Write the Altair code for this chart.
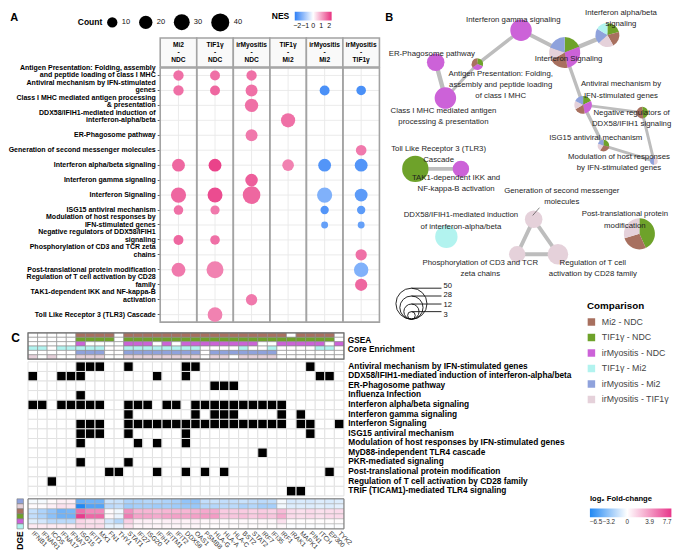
import math
import altair as alt
import pandas as pd

S = 0.97
FONT = "Liberation Sans"
OX, OY = 20.7, 61          # figure-unit origin of the top block (left edge of panel C, top of panel A plot)

# ---------------- shared ----------------
COMPS = ["Mi2 - NDC", "TIF1γ - NDC", "irMyositis - NDC", "TIF1γ - Mi2", "irMyositis - Mi2", "irMyositis - TIF1γ"]
COMP_HDR = ["Mi2\n-\nNDC", "TIF1γ\n-\nNDC", "irMyositis\n-\nNDC", "TIF1γ\n-\nMi2", "irMyositis\n-\nMi2", "irMyositis\n-\nTIF1γ"]
COMP_COLORS = ["#a8705f", "#6ea22a", "#cc62d8", "#b2f3ef", "#8fa2dc", "#e5d1da"]

# ---------------- panel A ----------------
A_PATHWAYS = [
    "Antigen Presentation: Folding, assembly|and peptide loading of class I MHC",
    "Antiviral mechanism by IFN-stimulated|genes",
    "Class I MHC mediated antigen processing|& presentation",
    "DDX58/IFIH1-mediated induction of|interferon-alpha/beta",
    "ER-Phagosome pathway",
    "Generation of second messenger molecules",
    "Interferon alpha/beta signaling",
    "Interferon gamma signaling",
    "Interferon Signaling",
    "ISG15 antiviral mechanism",
    "Modulation of host responses by|IFN-stimulated genes",
    "Negative regulators of DDX58/IFIH1|signaling",
    "Phosphorylation of CD3 and TCR zeta|chains",
    "Post-translational protein modification",
    "Regulation of T cell activation by CD28|family",
    "TAK1-dependent IKK and NF-kappa-B|activation",
    "Toll Like Receptor 3 (TLR3) Cascade",
]
A_DOT_PATH = [0, 0, 0, 1, 1, 1, 1, 1, 2, 3, 4, 5, 6, 6, 6, 6, 6, 7, 8, 8, 8, 8, 8,
              9, 9, 9, 9, 10, 10, 11, 11, 12, 13, 13, 13, 14, 15, 16]
A_DOT_COMP = [0, 1, 2, 0, 1, 2, 4, 5, 2, 3, 2, 5, 0, 1, 3, 4, 5, 2, 0, 1, 2, 4, 5,
              0, 1, 4, 5, 4, 5, 0, 1, 5, 0, 1, 5, 5, 2, 1]
A_DOT_COUNT = [10, 9, 10, 10, 9, 15, 9, 8, 20, 23, 15, 11, 18, 18, 14, 18, 18, 17, 27, 26, 38, 27, 18,
               8, 7, 5, 5, 2, 2, 9, 8, 13, 22, 35, 24, 16, 13, 25]
A_DOT_NES = [1.6, 1.6, 1.6, 1.6, 1.7, 1.6, -2.0, -2.0, 1.6, 1.6, 1.5, 1.5, 1.7, 2.1, 1.4, -1.9, -1.9, 1.8,
             1.7, 2.0, 1.7, -1.4, -1.8, 1.6, 1.5, -1.9, -1.8, -1.7, -1.7, 1.7, 1.6, 1.6, 1.5, 1.4, -1.4,
             1.7, 1.5, 1.4]

# ---------------- panel B (network layout, in figure units) ----------------
B_X = [484, 593, 451, 452, 441, 542, 618, 529, 574, 614, 666, 654, 525, 651, 567, 467, 420]
B_Y = [57, 99, 92, 235, 55, 217, 27, 22, 45, 141, 157, 107, 253, 232, 253, 165, 165]
B_SIZE = [7, 16, 24, 26, 16, 16, 30, 24, 50, 7, 3, 7, 14, 50, 22, 14, 36]
B_LABEL = [
    "Antigen Presentation: Folding,\nassembly and peptide loading\nof class I MHC",
    "Antiviral mechanism by\nIFN-stimulated genes",
    "Class I MHC mediated antigen\nprocessing & presentation",
    "DDX58/IFIH1-mediated induction\nof interferon-alpha/beta",
    "ER-Phagosome pathway",
    "Generation of second messenger\nmolecules",
    "Interferon alpha/beta\nsignaling",
    "Interferon gamma signaling",
    "Interferon Signaling",
    "ISG15 antiviral mechanism",
    "Modulation of host responses\nby IFN-stimulated genes",
    "Negative regulators of\nDDX58/IFIH1 signaling",
    "Phosphorylation of CD3 and TCR\nzeta chains",
    "Post-translational protein\nmodification",
    "Regulation of T cell\nactivation by CD28 family",
    "TAK1-dependent IKK and\nNF-kappa-B activation",
    "Toll Like Receptor 3 (TLR3)\nCascade",
]
B_LX = [508, 632, 449, 467, 437, 571, 632, 521, 578, 606, 630, 643, 487, 636, 603, 462, 444]
B_LY = [67, 78, 105, 213, 47, 188, 4, 12, 52, 133, 153, 107, 262, 212, 262, 174, 144]
B_LEADER = [548, 205, 541, 213]          # label-to-node connector for "Generation of second messenger molecules"
E_SRC = [4, 2, 0, 7, 8, 8, 1, 1, 11, 9, 16, 5, 5, 12]
E_DST = [2, 0, 7, 8, 6, 1, 11, 9, 10, 10, 15, 12, 14, 14]
E_W = [4.5, 3.0, 3.5, 4.0, 4.5, 3.5, 3.0, 3.5, 3.0, 3.0, 4.0, 4.0, 4.0, 4.0]
SLICE_ORDER = [1, 2, 0, 5, 4, 3]
B_LEG_N = [50, 28, 12, 3]
B_LEG_LABEL_Y = [285.5, 295.5, 305.5, 315.5]
B_LEG_CX = 416
B_LEG_BOTTOM = 320

# ---------------- panel C ----------------
GENES = ["IFNB1", "IFNAR1", "ICOS", "IFNA17", "IFNA7", "ISG15", "IFIT1", "MX1", "FN1", "THY1", "STAT1",
         "IFI27", "ISG20", "IFIH1", "IFITM1", "IFIT2", "DDX58", "OAS1", "PSMB8", "HLA-G", "HLA-A", "HLA-C",
         "BST2", "STAT2", "IRF7", "IFI35", "IRF1", "IRAK1", "MAPK1", "PIN1", "ITCH", "EP300", "TYK2"]
GSEA_MEMBERS = [
    [6, 7, 8, 9] + list(range(11, 28)) + [29, 30, 31, 32],
    [6, 7, 8, 9] + list(range(11, 33)),
    [6, 11, 12, 13, 15] + list(range(17, 25)) + [27, 28, 29, 30, 31, 33],
    [1, 2, 4, 5, 6, 7, 8] + list(range(11, 19)) + [23, 26, 31, 32],
    [6, 7, 8] + list(range(11, 19)) + list(range(20, 27)),
    [1, 3, 6, 7, 8] + list(range(11, 19)) + [20, 21, 23, 24, 25, 26],
]
C_PATHWAYS = [
    "Antiviral mechanism by IFN-stimulated genes",
    "DDX58/IFIH1-mediated induction of interferon-alpha/beta",
    "ER-Phagosome pathway",
    "Influenza Infection",
    "Interferon alpha/beta signaling",
    "Interferon gamma signaling",
    "Interferon Signaling",
    "ISG15 antiviral mechanism",
    "Modulation of host responses by IFN-stimulated genes",
    "MyD88-independent TLR4 cascade",
    "PKR-mediated signaling",
    "Post-translational protein modification",
    "Regulation of T cell activation by CD28 family",
    "TRIF (TICAM1)-mediated TLR4 signaling",
]
C_MEMBERS = [
    [6, 7, 8, 11, 17, 18, 30],
    [1, 4, 5, 6, 14, 17, 31, 32],
    [20, 21, 22],
    [6],
    [1, 2, 4, 5, 6, 7, 8, 11, 12, 13, 15, 16] + list(range(18, 28)),
    [11, 18, 20, 21, 22, 27, 29],
    [6, 7, 8] + list(range(11, 28)) + [29, 30, 33],
    [6, 7, 8, 11, 17, 30],
    [6, 12, 14, 17],
    [25],
    [6, 11],
    [9, 10, 14, 17, 19, 21, 32],
    [3],
    [28, 29],
]
DGE_ROWS = ["irMyositis - Mi2", "irMyositis - TIF1γ", "Mi2 - NDC", "TIF1γ - NDC", "irMyositis - NDC", "TIF1γ - Mi2"]
DGE_FC = [
    [-0.3, -0.3, 0.2, 0.6, 0.6, -4.5, -4.2, -4.2, -1.5, -1.6, -2.4, -2.4, -2.2, -2.2, -2.4, -2.6, -3.2,
     -3.2, -1.8, -1.6, -1.8, -1.8, -1.6, -1.8, -2.0, -1.9, -0.3, -1.2, -1.1, -1.2, -1.0, -1.1, -1.0],
    [0.2, 0.2, 0.6, 1.2, 1.1, -6.5, -5.0, -5.0, -2.0, -1.8, -2.8, -2.6, -2.6, -2.8, -2.6, -2.8, -3.0,
     -3.0, -2.2, -2.2, -2.0, -2.0, -2.4, -2.2, -2.6, -2.6, -0.4, -1.0, -1.0, -1.0, -0.9, -1.0, -0.8],
    [-1.7, -2.4, -3.2, -4.2, -4.0, 5.5, 4.5, 4.5, 0.2, -0.4, 4.2, 2.8, 2.8, 2.6, 2.8, 2.8, 2.8,
     3.0, 3.3, 3.3, 2.0, 2.0, 2.0, 1.8, 2.0, 1.8, 2.6, 1.4, 1.2, 1.4, 1.2, 1.3, 1.4],
    [-1.8, -2.4, -3.4, -4.2, -4.2, 7.5, 5.8, 5.8, 0.3, -0.6, 5.0, 3.5, 3.4, 3.2, 3.5, 3.6, 3.4,
     3.6, 3.8, 3.8, 2.2, 2.2, 2.4, 2.0, 2.4, 2.2, 3.2, 1.4, 1.3, 1.4, 1.2, 1.4, 1.4],
    [-0.9, -1.3, -2.0, -2.0, -2.0, 1.6, 1.2, 1.2, -1.3, -2.2, 1.8, 0.6, 0.6, 0.4, 0.6, 0.6, 0.5,
     0.6, 0.3, 0.3, 0.2, 0.2, 0.3, 0.2, 0.3, 0.3, 1.2, 0.1, 0.1, 0.1, 0.1, 0.1, 0.1],
    [0.8, 0.8, 0.8, 0.8, 0.8, 1.5, 1.3, 1.3, -0.7, -0.7, 1.1, 0.4, 0.4, 0.4, 0.4, 0.4, 0.4,
     0.4, 0.1, 0.1, 0.1, 0.1, 0.1, 0.1, 0.1, 0.1, 0.3, -0.1, -0.1, -0.1, -0.1, -0.1, -0.1],
]
FC_TICKS = [-6.5, -3.2, 0, 3.9, 7.7]

# ======================= top block (panels A and B in one layered view) =======================
wT = (685 - OX) * S
hPlot = (323 - OY) * S
hT = hPlot + 9 * S
xa0, xa1 = (157 - OX) * S, (383 - OX) * S

dfA = pd.DataFrame({
    "pathway": [A_PATHWAYS[i] for i in A_DOT_PATH],
    "comp": [COMPS[j] for j in A_DOT_COMP],
    "count": A_DOT_COUNT,
    "nes": A_DOT_NES,
})
dfHdr = pd.DataFrame({"comp": COMPS, "hdr": COMP_HDR})
dfRows = pd.DataFrame({"pathway": A_PATHWAYS})

xA = alt.X("comp:N", scale=alt.Scale(domain=COMPS, range=[xa0, xa1], paddingInner=0, paddingOuter=0), axis=None)
yA = alt.Y("pathway:N", scale=alt.Scale(domain=A_PATHWAYS, range=[0, hPlot], paddingInner=0, paddingOuter=0),
           axis=alt.Axis(title=None, offset=-xa0,
                         labelExpr="indexof(datum.label, '|') >= 0 ? split(datum.label, '|') : ['', datum.label]",
                         labelFontSize=7.0, labelFontWeight="bold", labelColor="#000000", labelLineHeight=7.6,
                         labelBaseline="middle", labelOffset=-7.6, tickSize=3, tickColor="#333333",
                         tickWidth=0.8, domain=False, grid=False, labelPadding=2, labelLimit=400,
                         labelOverlap=False, labelBound=False))

grid_v = alt.Chart(dfHdr).mark_rule(color="#e9e9e9", strokeWidth=0.9).encode(
    x=xA, y=alt.value(0), y2=alt.value(hPlot))
grid_h = alt.Chart(dfRows).mark_rule(color="#e9e9e9", strokeWidth=0.9).encode(
    y=yA, x=alt.value(xa0), x2=alt.value(xa1))
borders = alt.Chart(dfHdr).mark_rect(fillOpacity=0, stroke="#a3a3a3", strokeWidth=1.6).encode(
    x=xA, y=alt.value(0), y2=alt.value(hPlot))
dots = alt.Chart(dfA).mark_circle(opacity=1).encode(
    x=xA, y=yA,
    size=alt.Size("count:Q", scale=alt.Scale(domain=[10, 40], range=[113 * S * S, 346 * S * S], zero=False),
                  legend=alt.Legend(title="Count", orient="none", legendX=(72 - OX) * S, legendY=(4 - OY) * S,
                                    direction="horizontal", titleOrient="left", values=[10, 20, 30, 40],
                                    symbolFillColor="#000000", symbolStrokeWidth=0, labelFontSize=7.5,
                                    titleFontSize=8.5, titleFontWeight="bold", titlePadding=4,
                                    labelColor="#111111", columnPadding=8)),
    color=alt.Color("nes:Q", scale=alt.Scale(domain=[-2.3, 0, 2.3], range=["#2f7ff6", "#ffffff", "#e8317f"],
                                             interpolate="rgb"),
                    legend=alt.Legend(title="NES", orient="none", legendX=(272 - OX) * S, legendY=(3 - OY) * S,
                                      direction="horizontal", titleOrient="left", gradientLength=38 * S,
                                      gradientThickness=9 * S, values=[-2, -1, 0, 1, 2], labelFontSize=7,
                                      titleFontSize=8.5, titleFontWeight="bold", titlePadding=5,
                                      labelColor="#111111", labelOverlap=False)),
)
hdr_box = alt.Chart(dfHdr).mark_rect(fill="#f9f9f9", stroke="#a3a3a3", strokeWidth=1.6).encode(
    x=xA, y=alt.value((30 - OY) * S), y2=alt.value(-1 * S))
hdr_txt = alt.Chart(dfHdr).mark_text(lineBreak="\n", fontWeight="bold", fontSize=6.6, lineHeight=7.5 * S,
                                     color="#000000", baseline="middle").encode(
    x=xA, y=alt.value((37.5 - OY) * S), text="hdr:N")
letterA = alt.Chart(pd.DataFrame({"t": ["A"]})).mark_text(fontSize=11, fontWeight="bold", color="#000000").encode(
    x=alt.value((6.5 - OX) * S), y=alt.value((9 - OY) * S), text="t:N")
panelA = alt.layer(grid_v, grid_h, borders, dots, hdr_box, hdr_txt, letterA)

xB = alt.Scale(domain=[OX, 685], range=[0, wT], zero=False, nice=False)
yB = alt.Scale(domain=[OY, 323], range=[0, hPlot], zero=False, nice=False)
rB = alt.Scale(type="sqrt", domain=[0, 50], range=[0, 16 * S])

pie_rows = []
for p in range(len(A_PATHWAYS)):
    items = [(A_DOT_COMP[k], A_DOT_COUNT[k]) for k in range(len(A_DOT_PATH)) if A_DOT_PATH[k] == p]
    items.sort(key=lambda t: SLICE_ORDER.index(t[0]))
    tot = sum(c for _, c in items)
    acc = 0
    for comp, c in items:
        pie_rows.append({"x": B_X[p], "y": B_Y[p], "n": B_SIZE[p], "comp": COMPS[comp],
                         "t0": 2 * math.pi * acc / tot, "t1": 2 * math.pi * (acc + c) / tot})
        acc += c
dfPie = pd.DataFrame(pie_rows)
dfEdge = pd.DataFrame({
    "x": [B_X[i] for i in E_SRC], "y": [B_Y[i] for i in E_SRC],
    "x2": [B_X[i] for i in E_DST], "y2": [B_Y[i] for i in E_DST],
    "w": [w * S for w in E_W],
})
dfLab = pd.DataFrame({"x": B_LX, "y": B_LY, "t": B_LABEL})
dfLead = pd.DataFrame({"x": [B_LEADER[0]], "y": [B_LEADER[1]], "x2": [B_LEADER[2]], "y2": [B_LEADER[3]]})
leg_r = [16 * math.sqrt(n / 50) for n in B_LEG_N]
dfSL = pd.DataFrame({
    "n": B_LEG_N,
    "x": [B_LEG_CX] * 4,
    "xe": [B_LEG_CX + 31] * 4,
    "xl": [B_LEG_CX + 33] * 4,
    "yc": [B_LEG_BOTTOM - r for r in leg_r],
    "yt": [B_LEG_BOTTOM - 2 * r for r in leg_r],
    "yl": B_LEG_LABEL_Y,
    "t0": [0.0] * 4,
    "t1": [2 * math.pi] * 4,
})

bx = lambda f: alt.X(f, scale=xB, axis=None)
by = lambda f: alt.Y(f, scale=yB, axis=None)
edges = alt.Chart(dfEdge).mark_rule(color="#bdbdbd", strokeCap="round").encode(
    x=bx("x:Q"), y=by("y:Q"), x2="x2:Q", y2="y2:Q", strokeWidth=alt.StrokeWidth("w:Q", scale=None))
pies = alt.Chart(dfPie).mark_arc(strokeWidth=0).encode(
    x=bx("x:Q"), y=by("y:Q"),
    theta=alt.Theta("t0:Q", scale=None), theta2="t1:Q",
    radius=alt.Radius("n:Q", scale=rB),
    color=alt.Color("comp:N", scale=alt.Scale(domain=COMPS, range=COMP_COLORS),
                    legend=alt.Legend(title="Comparison", orient="none", legendX=(597 - OX) * S,
                                      legendY=(301 - OY) * S, symbolType="square", symbolSize=56,
                                      symbolStrokeWidth=0, labelFontSize=8.8, titleFontSize=9.8,
                                      titleFontWeight="bold", rowPadding=5.5, titlePadding=7,
                                      labelColor="#444444", labelOffset=6)))
leader = alt.Chart(dfLead).mark_rule(color="#333333", strokeWidth=0.6).encode(
    x=bx("x:Q"), y=by("y:Q"), x2="x2:Q", y2="y2:Q")
labels = alt.Chart(dfLab).mark_text(lineBreak="\n", fontSize=7.8, lineHeight=11.5 * S, color="#1e1e1e",
                                    baseline="middle").encode(x=bx("x:Q"), y=by("y:Q"), text="t:N")
leg_circ = alt.Chart(dfSL).mark_arc(fillOpacity=0, stroke="#111111", strokeWidth=0.9).encode(
    x=bx("x:Q"), y=by("yc:Q"), theta=alt.Theta("t0:Q", scale=None), theta2="t1:Q",
    radius=alt.Radius("n:Q", scale=rB))
leg_line = alt.Chart(dfSL).mark_rule(color="#111111", strokeWidth=0.9).encode(
    x=bx("x:Q"), x2="xe:Q", y=by("yt:Q"), y2="yt:Q")
leg_txt = alt.Chart(dfSL).mark_text(align="left", baseline="middle", fontSize=7.6, color="#111111").encode(
    x=bx("xl:Q"), y=by("yl:Q"), text="n:N")
letterB = alt.Chart(pd.DataFrame({"x": [393], "y": [9], "t": ["B"]})).mark_text(
    fontSize=11, fontWeight="bold", color="#000000").encode(x=bx("x:Q"), y=by("y:Q"), text="t:N")
panelB = alt.layer(edges, pies, leader, labels, leg_circ, leg_line, leg_txt, letterB)

top = alt.layer(panelA, panelB).resolve_scale(x="independent", y="independent", color="independent").properties(
    width=wT, height=hT)

# ======================= panel C =======================
colw = 9.87 * S
wC = len(GENES) * colw
hG = 27 * S
hM = 14 * 9.87 * S
hD = 31 * S
gx = alt.X("gene:N", scale=alt.Scale(domain=GENES, paddingInner=0, paddingOuter=0), axis=None)

g_rows = []
for ci, comp in enumerate(COMPS):
    for gi, g in enumerate(GENES):
        g_rows.append({"gene": g, "comp": comp,
                       "fill": COMP_COLORS[ci] if (gi + 1) in GSEA_MEMBERS[ci] else "#ffffff"})
dfG = pd.DataFrame(g_rows)
gsea_cells = alt.Chart(dfG).mark_rect(stroke="#8c8c8c", strokeWidth=0.6).encode(
    x=gx, y=alt.Y("comp:N", scale=alt.Scale(domain=COMPS, paddingInner=0, paddingOuter=0), axis=None),
    fill=alt.Fill("fill:N", scale=None))
one = pd.DataFrame({"t": ["GSEA\nCore Enrichment"]})
gsea_frame = alt.Chart(one).mark_rect(fillOpacity=0, stroke="#6e6e6e", strokeWidth=1.2).encode(
    x=alt.value(0), x2=alt.value(wC), y=alt.value(0), y2=alt.value(hG))
gsea_lab = alt.Chart(one).mark_text(lineBreak="\n", align="left", baseline="middle", fontSize=8.3,
                                    fontWeight="bold", lineHeight=10 * S, color="#000000").encode(
    x=alt.value(wC + 4 * S), y=alt.value(8 * S), text="t:N")
letterC = alt.Chart(pd.DataFrame({"t": ["C"]})).mark_text(fontSize=12, fontWeight="bold", color="#000000").encode(
    x=alt.value((8 - OX) * S), y=alt.value(5 * S), text="t:N")
gsea = alt.layer(gsea_cells, gsea_frame, gsea_lab, letterC).properties(width=wC, height=hG)

m_rows = []
for pi, pw in enumerate(C_PATHWAYS):
    for gi, g in enumerate(GENES):
        m_rows.append({"gene": g, "path": pw, "fill": "#000000" if (gi + 1) in C_MEMBERS[pi] else "#ffffff"})
dfM = pd.DataFrame(m_rows)
memb = alt.Chart(dfM).mark_rect(stroke="#e2e2e2", strokeWidth=1).encode(
    x=gx,
    y=alt.Y("path:N", scale=alt.Scale(domain=C_PATHWAYS, paddingInner=0, paddingOuter=0),
            axis=alt.Axis(orient="right", title=None, labelFontSize=8.3, labelFontWeight="bold",
                          ticks=False, domain=False, labelPadding=4 * S, labelLimit=400,
                          labelColor="#000000", labelOverlap=False)),
    fill=alt.Fill("fill:N", scale=None)).properties(width=wC, height=hM)

d_rows = []
for ri, rn in enumerate(DGE_ROWS):
    for gi, g in enumerate(GENES):
        d_rows.append({"gene": g, "row": rn, "fc": DGE_FC[ri][gi]})
dfD = pd.DataFrame(d_rows)
dy = alt.Y("row:N", scale=alt.Scale(domain=DGE_ROWS, paddingInner=0, paddingOuter=0), axis=None)
dge_cells = alt.Chart(dfD).mark_rect(stroke="#a9a9a9", strokeWidth=0.5).encode(
    x=alt.X("gene:N", scale=alt.Scale(domain=GENES, paddingInner=0, paddingOuter=0),
            axis=alt.Axis(title=None, labelAngle=45, labelAlign="left", labelBaseline="middle",
                          labelFontSize=6.6, labelColor="#333333", ticks=False, domain=False,
                          labelPadding=3, labelOverlap=False, labelBound=False)),
    y=dy,
    color=alt.Color("fc:Q", scale=alt.Scale(domain=[-6.5, 0, 7.7], range=["#2188f3", "#ffffff", "#e8368a"],
                                            interpolate="rgb"),
                    legend=alt.Legend(title="log₂ Fold-change", orient="none", legendX=(600 - OX) * S,
                                      legendY=(499 - 503) * S, direction="horizontal",
                                      gradientLength=84 * S, gradientThickness=9 * S, values=FC_TICKS,
                                      format=".1~f", titleFontSize=7.6, titleFontWeight="bold",
                                      labelFontSize=6.3, titlePadding=6, labelColor="#333333",
                                      labelOverlap=False)))
dfKey = pd.DataFrame({"k": ["k"] * 6, "row": DGE_ROWS,
                      "hex": [COMP_COLORS[COMPS.index(r)] for r in DGE_ROWS]})
dge_key = alt.Chart(dfKey).mark_rect(stroke="#7a7a7a", strokeWidth=0.6).encode(
    x=alt.X("k:N", scale=alt.Scale(domain=["k"], range=[-11.4 * S, -4.7 * S], paddingInner=0, paddingOuter=0),
            axis=None),
    y=dy, fill=alt.Fill("hex:N", scale=None))
dge_frame = alt.Chart(one).mark_rect(fillOpacity=0, stroke="#7a7a7a", strokeWidth=1.0).encode(
    x=alt.value(0), x2=alt.value(wC), y=alt.value(0), y2=alt.value(hD))
dge_lab = alt.Chart(pd.DataFrame({"t": ["DGE"]})).mark_text(angle=270, fontSize=8.5, fontWeight="bold",
                                                           color="#000000").encode(
    x=alt.value(-8 * S), y=alt.value(hD + 12 * S), text="t:N")
dge = alt.layer(dge_cells, dge_key, dge_frame, dge_lab).resolve_scale(x="independent").properties(
    width=wC, height=hD)

# ======================= assemble =======================
chart = alt.vconcat(top, gsea, memb, dge, spacing=2 * S, bounds="flush").resolve_scale(
    color="independent", size="independent").properties(padding=0).configure(
    font=FONT).configure_view(strokeWidth=0)

chart.save("out.html", embed_options={"renderer": "svg", "actions": False})
